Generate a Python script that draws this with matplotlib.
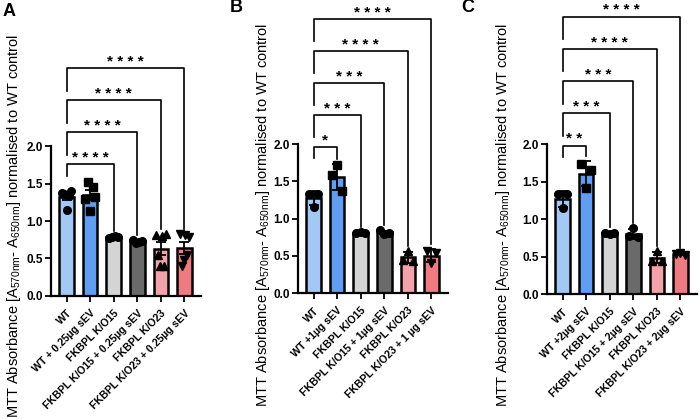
import numpy as np
import matplotlib.pyplot as plt

plt.rcParams['font.family'] = ['Liberation Sans', 'DejaVu Sans']
plt.rcParams['mathtext.fontset'] = 'custom'
plt.rcParams['mathtext.rm'] = 'Liberation Sans'
plt.rcParams['mathtext.it'] = 'Liberation Sans:italic'
plt.rcParams['mathtext.bf'] = 'Liberation Sans:bold'

# ---- data ----
labels_A = ["WT", "WT + 0.25µg sEV", "FKBPL K/O15", "FKBPL K/O15 + 0.25µg sEV",
            "FKBPL K/O23", "FKBPL K/O23 + 0.25µg sEV"]
labels_B = ["WT", "WT +1µg sEV", "FKBPL K/O15", "FKBPL K/O15 + 1µg sEV",
            "FKBPL K/O23", "FKBPL K/O23 + 1 µg sEV"]
labels_C = ["WT", "WT +2µg sEV", "FKBPL K/O15", "FKBPL K/O15 + 2µg sEV",
            "FKBPL K/O23", "FKBPL K/O23 + 2µg sEV"]

points_A = [
    [1.38, 1.36, 1.15, 1.34, 1.40],
    [1.30, 1.52, 1.14, 1.46, 1.32],
    [0.77, 0.79, 0.80, 0.78],
    [0.74, 0.71, 0.72, 0.73],
    [0.81, 0.54, 0.40, 0.80, 0.40, 0.82],
    [0.82, 0.39, 0.47, 0.81, 0.55, 0.79],
]
points_B = [
    [1.33, 1.16, 1.33],
    [1.58, 1.72, 1.37],
    [0.80, 0.82, 0.81],
    [0.84, 0.79, 0.81],
    [0.44, 0.56, 0.43],
    [0.57, 0.40, 0.54],
]
points_C = [
    [1.33, 1.15, 1.33],
    [1.74, 1.42, 1.65],
    [0.82, 0.80, 0.81],
    [0.77, 0.88, 0.76],
    [0.44, 0.57, 0.44],
    [0.53, 0.55, 0.52],
]

stars_A = ["****", "****", "****", "****"]
targets_A = [2, 3, 4, 5]
stars_B = ["*", "***", "***", "****", "****"]
targets_B = [1, 2, 3, 4, 5]
stars_C = ["**", "***", "***", "****", "****"]
targets_C = [1, 2, 3, 4, 5]

colors = ["#a3c8f5", "#5f9ef2", "#d4d4d4", "#6a6a6a", "#f2a2a8", "#ef7a82"]
markers = ["o", "s", "o", "o", "^", "v"]

ylab = ("MTT Absorbance [A$_{\\mathrm{570nm}}$- A$_{\\mathrm{650nm}}$] "
        "normalised to WT control")

W, H = 700, 419
fig = plt.figure(figsize=(W / 100, H / 100), dpi=100)

panels = [
    # letter, labels, points, stars, targets, error type, left px, y0 px, y2 px, ylabel x, ylabel y, letter x, letter y
    ("A", labels_A, points_A, stars_A, targets_A, "sem", 51, 295.5, 146.5, 14, 226, 9, 11),
    ("B", labels_B, points_B, stars_B, targets_B, "sd", 298, 293, 144, 263, 215, 236, 7),
    ("C", labels_C, points_C, stars_C, targets_C, "sd", 547, 294, 144, 503, 215, 468, 7),
]

for (letter, labels, pts, stars, targets, etype, lx, y0, y2,
     ylx, yly, ltx, lty) in panels:
    ax = fig.add_axes([lx / W, (H - y0) / H, 150 / W, (y0 - y2) / H])
    x = np.arange(len(labels))
    means = [np.mean(p) for p in pts]
    if etype == "sem":
        errs = [np.std(p, ddof=1) / np.sqrt(len(p)) for p in pts]
    else:
        errs = [np.std(p, ddof=1) for p in pts]

    ax.bar(x, means, width=0.62, color=colors, edgecolor="black",
           linewidth=1.8, zorder=2)
    ax.errorbar(x, means, yerr=errs, fmt="none", ecolor="black",
                elinewidth=1.3, capsize=3.5, capthick=1.3, zorder=3)
    for i, p in enumerate(pts):
        n = len(p)
        off = np.linspace(-0.2, 0.2, n)
        ax.plot(x[i] + off, p, linestyle="none", marker=markers[i],
                markersize=5.5, color="black", zorder=4, clip_on=False)

    ax.set_xlim(-0.66, 5.7)
    ax.set_ylim(0, 2.0)
    ax.set_yticks([0, 0.5, 1.0, 1.5, 2.0])
    ax.set_yticklabels(["0.0", "0.5", "1.0", "1.5", "2.0"])
    ax.set_xticks(x)
    ax.set_xticklabels(labels, rotation=45, ha="right", rotation_mode="anchor")
    for spine in ["top", "right"]:
        ax.spines[spine].set_visible(False)
    for spine in ["left", "bottom"]:
        ax.spines[spine].set_linewidth(1.6)
    ax.tick_params(axis="both", length=4, width=1.3)
    ax.tick_params(axis="y", labelsize=8.5, pad=2)
    ax.tick_params(axis="x", labelsize=7.6, pad=5)
    for t in ax.get_xticklabels() + ax.get_yticklabels():
        t.set_fontweight("bold")

    # significance brackets
    tops = [max(max(p), m + e) for p, m, e in zip(pts, means, errs)]
    base = max(max(p) for p in pts[:targets[0] + 1]) + 0.24
    for k, (s, tgt) in enumerate(zip(stars, targets)):
        h = base + 0.43 * k
        left_leg = 0.15 if k == 0 else 0.3
        ax.plot([0, 0, tgt, tgt], [h - left_leg, h, h, tops[tgt] + 0.07],
                color="black", linewidth=1.2, clip_on=False, zorder=5)
        ax.text(tgt / 2, h + 0.03, " ".join(s), ha="center", va="baseline",
                fontsize=11, fontweight="bold", clip_on=False)

    fig.text(ylx / W, 1 - yly / H, ylab, rotation=90, ha="center",
             va="center", fontsize=10.5)
    fig.text(ltx / W, 1 - lty / H, letter, ha="center", va="center",
             fontsize=13, fontweight="bold")

fig.savefig("out.png", dpi=100)
